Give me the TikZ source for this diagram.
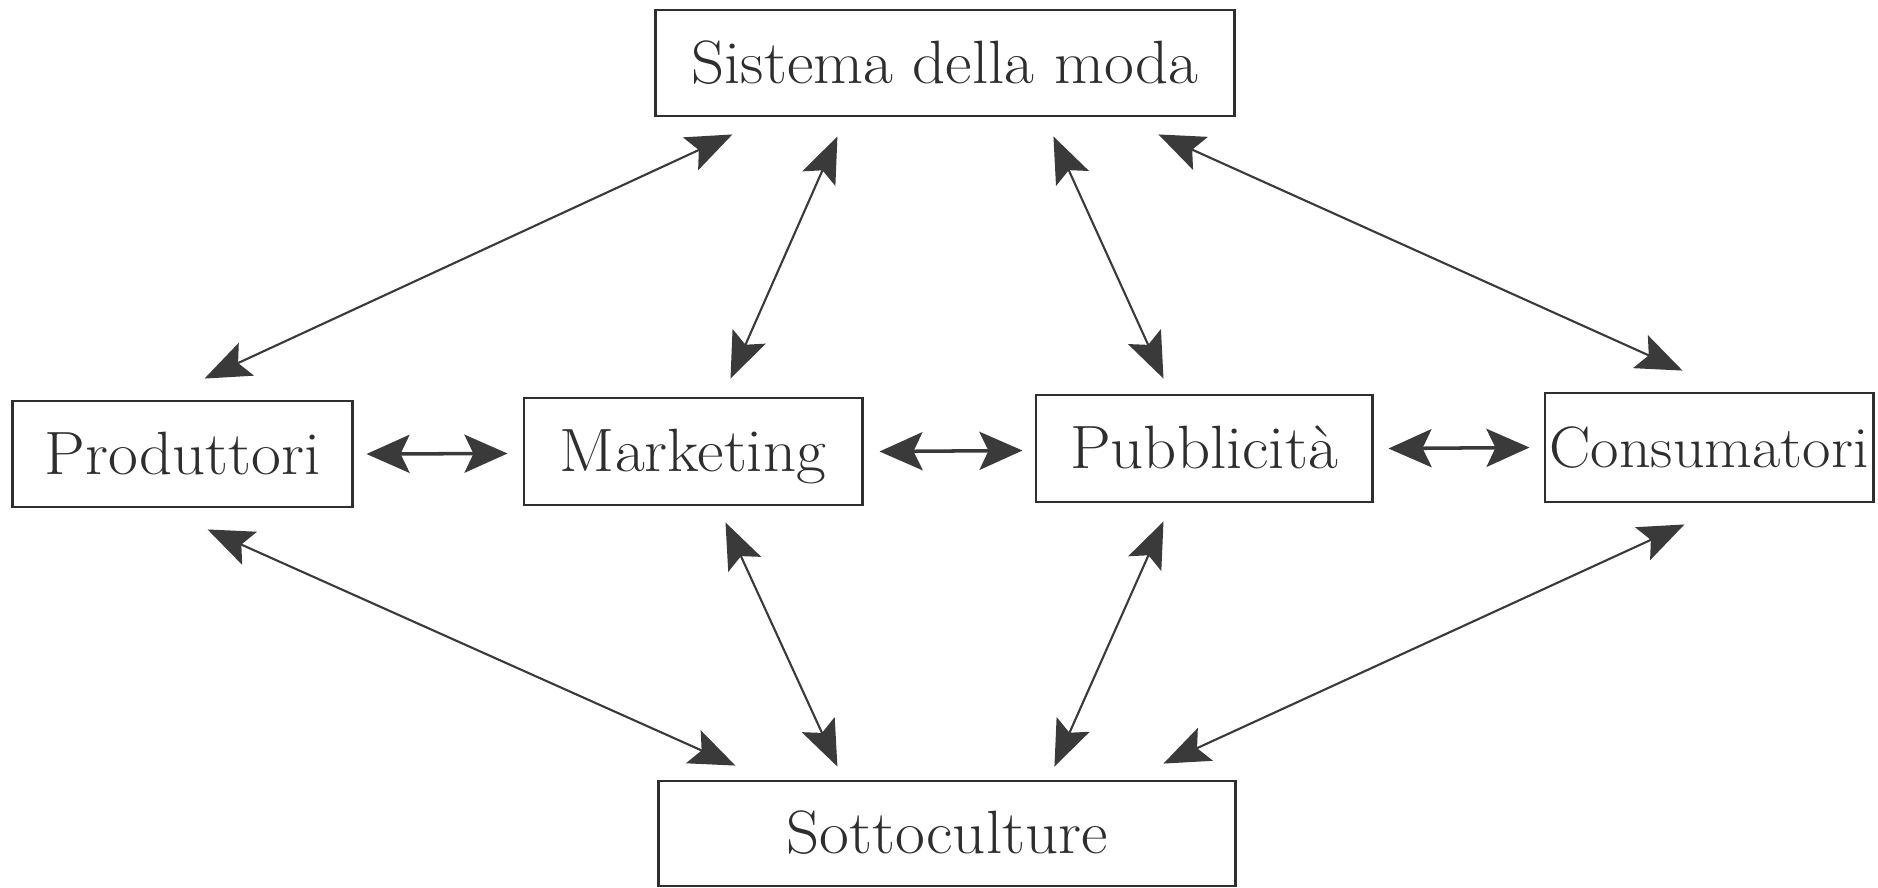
\documentclass[tikz,border=0pt]{standalone}
\usepackage{fontspec}
\setmainfont{Latin Modern Roman}[FakeStretch=1.06]
\usetikzlibrary{arrows.meta,calc}
\definecolor{ink}{HTML}{2E2E2E}
\definecolor{arrowgray}{HTML}{3A3A3A}
\begin{document}
\begin{tikzpicture}[x=0.01cm,y=-0.01cm,
  box/.style={draw=ink, line width=0.8pt, inner sep=0pt, text=ink,
    font=\fontsize{17.4}{21}\selectfont, text height=11.6pt, text depth=0pt},
  link/.style={draw=arrowgray, line width=0.6pt,
    {Stealth[length=4.6mm,width=3.6mm,inset=0.9mm]}-{Stealth[length=4.6mm,width=3.6mm,inset=0.9mm]}},
  hlink/.style={link, line width=1pt,
    {Stealth[length=4.3mm,width=3.8mm,inset=0.9mm]}-{Stealth[length=4.3mm,width=3.8mm,inset=0.9mm]}}]
\useasboundingbox (0,0) rectangle (1878,887);
\fill[white] (0,0) rectangle (1878,887);

\node[box, minimum width=5.78cm, minimum height=1.06cm] (sis) at (945,63) {Sistema della moda};
\node[box, minimum width=3.39cm, minimum height=1.06cm] (prod) at (182.5,454) {Produttori};
\node[box, minimum width=3.38cm, minimum height=1.07cm] (mkt) at (693,451.5) {Marketing};
\node[box, minimum width=3.36cm, minimum height=1.07cm] (pub) at (1204,448.5) {Pubblicità};
\node[box, minimum width=3.28cm, minimum height=1.09cm, font=\fontsize{16.6}{20}\selectfont] (con) at (1709,447.5) {Consumatori};
\node[box, minimum width=5.76cm, minimum height=1.05cm] (sot) at (947,833.5) {Sottoculture};

% top fan
\draw[link] ($(sis.south west)+(78,17)$) -- ($(prod.north west)+(193,-21)$);
\draw[link] ($(sis.south west)+(183,19)$) -- ($(mkt.north west)+(208,-18)$);
\draw[link] ($(sis.south west)+(399,19)$) -- ($(pub.north west)+(129,-15)$);
\draw[link] ($(sis.south west)+(504,17)$) -- ($(con.north west)+(139,-21)$);

% bottom fan
\draw[link] ($(prod.south west)+(196,21)$) -- ($(sot.north west)+(78,-14)$);
\draw[link] ($(mkt.south west)+(203,16)$) -- ($(sot.north west)+(180,-13)$);
\draw[link] ($(pub.south west)+(129,18)$) -- ($(sot.north west)+(397,-13)$);
\draw[link] ($(con.south west)+(141,21)$) -- ($(sot.north west)+(506,-16)$);

% horizontal links
\draw[hlink] ($(prod.east)+(13,0)$) -- ($(mkt.west)+(-15,2)$);
\draw[hlink] ($(mkt.east)+(16,0)$) -- ($(pub.west)+(-12,2)$);
\draw[hlink] ($(pub.east)+(15,0)$) -- ($(con.west)+(-14,0)$);
\end{tikzpicture}
\end{document}
